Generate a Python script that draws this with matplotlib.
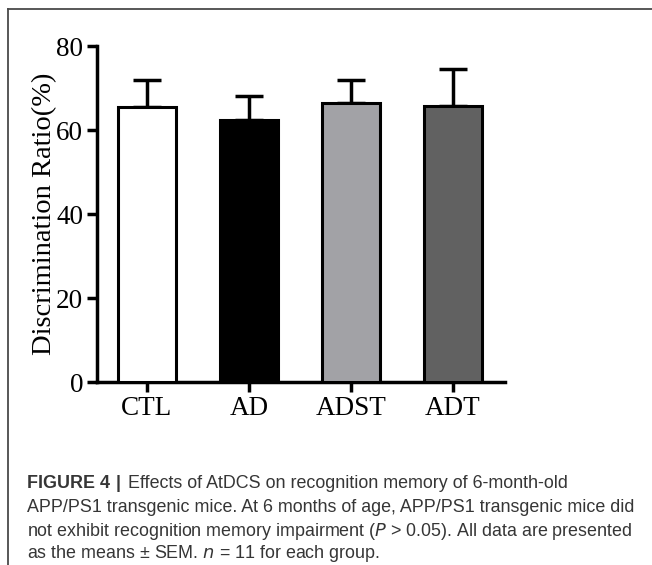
import matplotlib
matplotlib.use("Agg")
import matplotlib.pyplot as plt
from matplotlib.lines import Line2D

groups = ["CTL", "AD", "ADST", "ADT"]
means = [65.5, 62.5, 66.5, 65.8]
sems = [6.3, 5.7, 5.3, 8.7]
colors = ["#ffffff", "#000000", "#a2a2a6", "#616161"]

yticks = [0, 20, 40, 60, 80]
ylabel = "Discrimination Ratio(%)"

W, H = 652, 565
fig = plt.figure(figsize=(W / 100, H / 100), dpi=100)

ax = fig.add_axes([97 / W, 1 - 382 / H, 408 / W, 336 / H])
x = list(range(len(groups)))
ax.bar(x, means, width=0.57, color=colors, edgecolor="black", linewidth=2.2, zorder=3)
ax.errorbar(x, means, yerr=[[0] * len(sems), sems], fmt="none", ecolor="black",
            elinewidth=2.5, capsize=10, capthick=2.5, zorder=2)

ax.set_xlim(-0.49, 3.51)
ax.set_ylim(0, 80)
ax.set_yticks(yticks)
ax.set_xticks(x)
ax.set_xticklabels(groups)
for lab in ax.get_xticklabels() + ax.get_yticklabels():
    lab.set_fontfamily("Liberation Serif")
    lab.set_fontsize(19.5)
ax.set_ylabel(ylabel, family="Liberation Serif", fontsize=20.5)
ax.yaxis.set_label_coords(-0.098, 0.5)
for side in ["top", "right"]:
    ax.spines[side].set_visible(False)
for side in ["left", "bottom"]:
    ax.spines[side].set_linewidth(2.5)
ax.tick_params(axis="both", direction="out", length=7, width=2.5, pad=3)

# frame around the figure panel
fig.add_artist(Line2D([8 / W, 1], [1 - 9 / H, 1 - 9 / H], color="#4a4a4a", lw=1.3))
fig.add_artist(Line2D([8 / W, 8 / W], [0, 1 - 9 / H], color="#4a4a4a", lw=1.3))

# caption
cap_color = "#363636"
cap_font = "Liberation Sans"
cap_size = 12.9
lines_y = [483, 507, 531, 554]
t = fig.text(27 / W, 1 - lines_y[0] / H, "FIGURE 4", fontsize=cap_size, family=cap_font,
             weight="bold", color=cap_color, va="center")
fig.canvas.draw()
bb = t.get_window_extent()
fig.text(bb.x1 / W + 0.009, 1 - lines_y[0] / H, "|", fontsize=cap_size, family=cap_font,
         weight="bold", color=cap_color, va="center")
fig.text(bb.x1 / W + 0.028, 1 - lines_y[0] / H, "Effects of AtDCS on recognition memory of 6-month-old",
         fontsize=cap_size, family=cap_font, color=cap_color, va="center")
fig.text(27 / W, 1 - lines_y[1] / H,
         "APP/PS1 transgenic mice. At 6 months of age, APP/PS1 transgenic mice did",
         fontsize=cap_size, family=cap_font, color=cap_color, va="center")
fig.text(27 / W, 1 - lines_y[2] / H,
         "not exhibit recognition memory impairment ($\\it{P}$ > 0.05). All data are presented",
         fontsize=cap_size, family=cap_font, color=cap_color, va="center")
fig.text(27 / W, 1 - lines_y[3] / H,
         "as the means \u00b1 SEM. $\\it{n}$ = 11 for each group.",
         fontsize=cap_size, family=cap_font, color=cap_color, va="center")

fig.savefig("out.png", dpi=100)
